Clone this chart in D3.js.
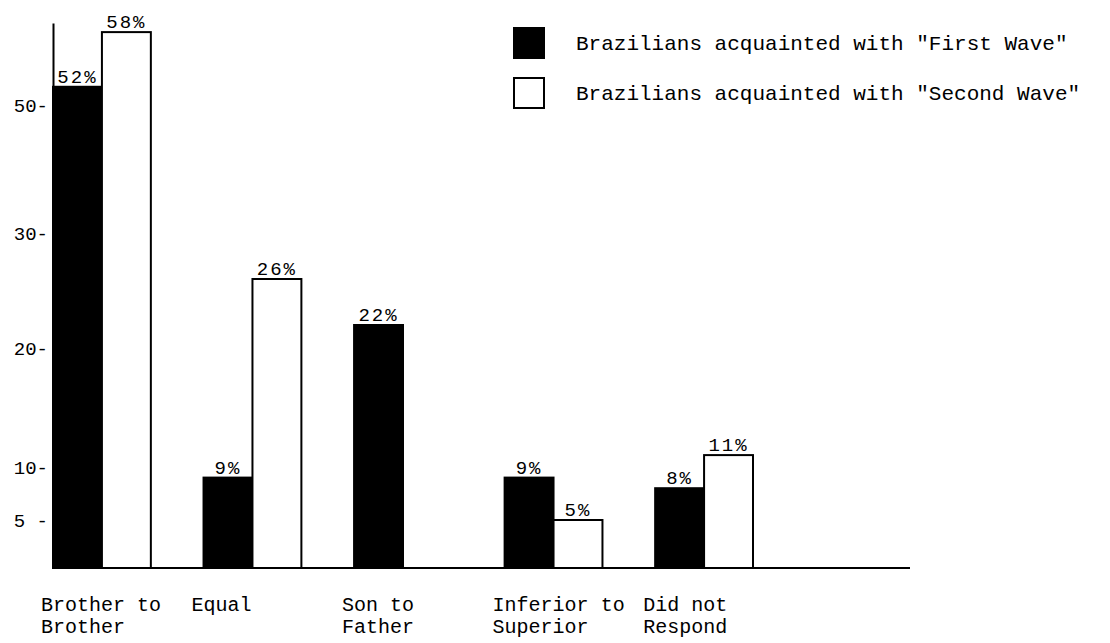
<!DOCTYPE html>
<html>
<head>
<meta charset="utf-8">
<script src="https://cdn.jsdelivr.net/npm/d3@7"></script>
<style>
    body { margin: 0; background: #fff; }
    text { font-family: "Liberation Mono", "DejaVu Sans Mono", monospace; fill: #000; }
</style>
</head>
<body>
<svg id="chart" width="1110" height="643"></svg>
<script>
// データ
const categories = ['Brother to Brother', 'Equal', 'Son to Father', 'Inferior to Superior', 'Did not Respond'];
const categoryLines = [['Brother to', 'Brother'], ['Equal'], ['Son to', 'Father'], ['Inferior to', 'Superior'], ['Did not', 'Respond']];
const firstWave = [52, 9, 22, 9, 8];
const secondWave = [58, 26, null, 5, 11];
const seriesKeys = ['first', 'second'];
const seriesNames = ['Brazilians acquainted with "First Wave"', 'Brazilians acquainted with "Second Wave"'];
const yTicks = [5, 10, 20, 30, 50];

const svg = d3.select('#chart');

// 手描きの軸なので目盛り間隔は不均一 → 区分線形スケール
const y = d3.scaleLinear()
    .domain([0, 5, 10, 20, 30, 50, 59])
    .range([568, 520, 467, 348, 233, 105, 23]);

const x0 = d3.scaleBand()
    .domain(categories)
    .range([53, 753])
    .paddingInner(0.35)
    .paddingOuter(0);

const x1 = d3.scaleBand()
    .domain(seriesKeys)
    .range([0, x0.bandwidth()]);

const fills = { first: '#000', second: '#fff' };

// バー
const rows = categories.map((c, i) => ({
    cat: c,
    values: [
        { key: 'first', v: firstWave[i] },
        { key: 'second', v: secondWave[i] }
    ].filter(d => d.v != null)
}));

const groups = svg.selectAll('.grp')
    .data(rows)
    .enter().append('g')
    .attr('class', 'grp')
    .attr('transform', d => `translate(${x0(d.cat)},0)`);

groups.selectAll('rect')
    .data(d => d.values)
    .enter().append('rect')
    .attr('x', d => x1(d.key))
    .attr('y', d => y(d.v))
    .attr('width', x1.bandwidth())
    .attr('height', d => y(0) - y(d.v))
    .attr('fill', d => fills[d.key])
    .attr('stroke', '#000')
    .attr('stroke-width', 2);

// 値ラベル
groups.selectAll('.val')
    .data(d => d.values)
    .enter().append('text')
    .attr('class', 'val')
    .attr('x', d => x1(d.key) + x1.bandwidth() / 2)
    .attr('y', d => y(d.v) - 4)
    .attr('text-anchor', 'middle')
    .style('font-size', '19px')
    .style('letter-spacing', '2px')
    .text(d => d.v + '%');

// 横軸のベースライン
svg.append('line')
    .attr('x1', x0.range()[0])
    .attr('x2', 910)
    .attr('y1', y(0))
    .attr('y2', y(0))
    .attr('stroke', '#000')
    .attr('stroke-width', 2);

// 縦軸
const yAxis = d3.axisLeft(y)
    .tickValues(yTicks)
    .tickSize(0)
    .tickSizeOuter(0)
    .tickPadding(5)
    .tickFormat(d => d === 5 ? '5 -' : d + '-');

const yg = svg.append('g')
    .attr('transform', `translate(${x0.range()[0]},0)`)
    .call(yAxis);
yg.select('.domain').attr('stroke', '#000').attr('stroke-width', 2);
yg.selectAll('text')
    .style('font-family', '"Liberation Mono", monospace')
    .style('font-size', '19px')
    .attr('fill', '#000');

// カテゴリラベル（1行ずつ別テキスト）
categoryLines.forEach((lines, i) => {
    lines.forEach((line, j) => {
        svg.append('text')
            .attr('class', 'cat')
            .attr('x', x0(categories[i]) - 12)
            .attr('y', 611 + j * 22)
            .style('font-size', '20px')
            .text(line);
    });
});

// 凡例
const legend = svg.append('g').attr('transform', 'translate(514, 28)');
const legendItems = legend.selectAll('g')
    .data(seriesKeys)
    .enter().append('g')
    .attr('transform', (d, i) => `translate(0, ${i * 50})`);

legendItems.append('rect')
    .attr('width', 30)
    .attr('height', 30)
    .attr('fill', d => fills[d])
    .attr('stroke', '#000')
    .attr('stroke-width', 2);

legendItems.append('text')
    .attr('x', 62)
    .attr('y', 22)
    .style('font-size', '21px')
    .text((d, i) => seriesNames[i]);
</script>
</body>
</html>
